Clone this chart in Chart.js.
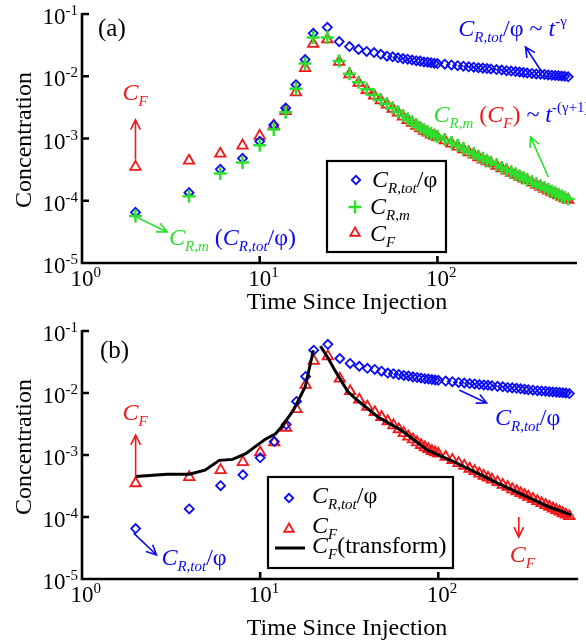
<!DOCTYPE html>
<html>
<head>
<meta charset="utf-8">
<script src="https://cdn.jsdelivr.net/npm/chart.js@4.4.1/dist/chart.umd.min.js"></script>
<style>
  html, body { margin: 0; padding: 0; background: #fff; }
  #wrap { position: relative; width: 586px; height: 643px; }
  canvas { position: absolute; left: 0; }
  #chartA { top: 0; }
  #chartB { top: 320px; }
</style>
</head>
<body>
<div id="wrap">
  <canvas id="chartA" width="586" height="320"></canvas>
  <canvas id="chartB" width="586" height="323"></canvas>
</div>
<script>
// time since injection (same sampling for all marker series)
const times = [2, 4, 6, 8, 10, 12, 14, 16, 18, 20,
  24, 28, 32, 36, 40, 44, 48, 52, 56, 60, 64, 68, 72, 76, 80, 84, 88, 92, 96, 100,
  110, 120, 130, 140, 150, 160, 170, 180, 190, 200, 215, 230, 245, 260, 275, 290,
  305, 320, 340, 360, 380, 400, 420, 440, 460, 480, 500, 520, 544];

// C_R,tot / phi  (blue diamonds)
const crTot = [6.5e-5, 1.35e-4, 3.2e-4, 4.8e-4, 9.0e-4, 1.65e-3, 3.1e-3, 7.3e-3, 1.85e-2, 4.9e-2,
  6.1e-2, 3.6e-2, 3.0e-2, 2.7e-2, 2.5e-2, 2.4e-2, 2.25e-2, 2.1e-2, 2.05e-2, 1.98e-2,
  1.92e-2, 1.88e-2, 1.82e-2, 1.78e-2, 1.75e-2, 1.7e-2, 1.68e-2, 1.65e-2, 1.62e-2, 1.6e-2,
  1.56e-2, 1.52e-2, 1.48e-2, 1.45e-2, 1.42e-2, 1.4e-2, 1.37e-2, 1.35e-2, 1.33e-2, 1.31e-2,
  1.28e-2, 1.26e-2, 1.23e-2, 1.21e-2, 1.19e-2, 1.17e-2, 1.15e-2, 1.13e-2, 1.11e-2, 1.09e-2,
  1.08e-2, 1.07e-2, 1.05e-2, 1.04e-2, 1.03e-2, 1.02e-2, 1.01e-2, 1.0e-2, 0.98e-2];

// C_R,m  (green plus)
const crM = [5.7e-5, 1.18e-4, 2.75e-4, 4.1e-4, 7.8e-4, 1.4e-3, 2.65e-3, 6.3e-3, 1.6e-2, 4.2e-2,
  4.2e-2, 1.75e-2, 1.1e-2, 8.0e-3, 6.2e-3, 5.0e-3, 4.2e-3, 3.6e-3, 3.1e-3, 2.7e-3,
  2.35e-3, 2.05e-3, 1.85e-3, 1.66e-3, 1.5e-3, 1.38e-3, 1.28e-3, 1.2e-3, 1.13e-3, 1.08e-3,
  9.6e-4, 8.6e-4, 7.7e-4, 6.9e-4, 6.2e-4, 5.7e-4, 5.2e-4, 4.8e-4, 4.45e-4, 4.15e-4,
  3.8e-4, 3.42e-4, 3.15e-4, 2.9e-4, 2.7e-4, 2.5e-4, 2.35e-4, 2.2e-4, 2.02e-4, 1.87e-4,
  1.73e-4, 1.62e-4, 1.51e-4, 1.42e-4, 1.34e-4, 1.26e-4, 1.19e-4, 1.13e-4, 1.07e-4];

// C_F  (red triangles)
const cF = [3.5e-4, 4.4e-4, 5.7e-4, 7.7e-4, 1.1e-3, 1.6e-3, 2.75e-3, 5.5e-3, 1.35e-2, 3.3e-2,
  3.9e-2, 1.7e-2, 1.07e-2, 7.8e-3, 6.0e-3, 4.9e-3, 4.1e-3, 3.5e-3, 3.0e-3, 2.6e-3,
  2.25e-3, 1.98e-3, 1.78e-3, 1.6e-3, 1.45e-3, 1.33e-3, 1.24e-3, 1.16e-3, 1.1e-3, 1.05e-3,
  9.3e-4, 8.3e-4, 7.4e-4, 6.7e-4, 6.0e-4, 5.5e-4, 5.0e-4, 4.6e-4, 4.3e-4, 4.0e-4,
  3.65e-4, 3.3e-4, 3.05e-4, 2.8e-4, 2.6e-4, 2.42e-4, 2.27e-4, 2.12e-4, 1.95e-4, 1.8e-4,
  1.67e-4, 1.56e-4, 1.46e-4, 1.37e-4, 1.29e-4, 1.22e-4, 1.15e-4, 1.09e-4, 1.03e-4];

// C_F (transform) black line, panel (b); null = break near the peak
const lineT = [2, 3, 4, 4.9, 5.9, 7, 8.3, 9.8, 10.7, 12.2, 13.2, 15.4, 17.9, 19.9, 20.8,
  21.8, 24, 26.2, 31.1, 35.4, 45.7, 62, 87, 120, 165, 230, 313, 420, 557];
const lineV = [4.5e-4, 4.9e-4, 4.9e-4, 5.7e-4, 8.2e-4, 8.5e-4, 1.05e-3, 1.5e-3, 1.8e-3, 2.2e-3, 2.86e-3, 5.3e-3, 1.26e-2, 4.9e-2, null,
  5.7e-2, 3.7e-2, 2.35e-2, 1.05e-2, 7.5e-3, 4.15e-3, 2.5e-3, 1.2e-3, 8.0e-4, 5.1e-4, 3.2e-4, 2.13e-4, 1.45e-4, 1.08e-4];

// axis ticks
const xTickVals = [1, 10, 100];
const xTickExp = ['0', '1', '2'];
const yTickVals = [1e-5, 1e-4, 1e-3, 1e-2, 1e-1];
const yTickExp = ['-5', '-4', '-3', '-2', '-1'];

const BLUE = '#0a0af5', RED = '#f01818', GREEN = '#2ee02e', BLACK = '#000';
const SERIF = '"Liberation Serif", "Times New Roman", serif';

function pts(xs, ys) { return xs.map((x, i) => ({ x: x, y: ys[i] })); }
function font(size, italic) { return (italic ? 'italic ' : '') + size + 'px ' + SERIF; }

// segs: [text, color, size, italic, dy]
function drawRich(ctx, x, y, segs, align) {
  let w = 0;
  segs.forEach(s => { ctx.font = font(s[2], s[3]); w += ctx.measureText(s[0]).width; });
  let cx = align === 'right' ? x - w : (align === 'center' ? x - w / 2 : x);
  ctx.textAlign = 'left';
  ctx.textBaseline = 'alphabetic';
  segs.forEach(s => {
    ctx.font = font(s[2], s[3]);
    ctx.fillStyle = s[1];
    ctx.fillText(s[0], cx, y + (s[4] || 0));
    cx += ctx.measureText(s[0]).width;
  });
}

function arrow(ctx, x1, y1, x2, y2, color) {
  const ang = Math.atan2(y2 - y1, x2 - x1), L = 11, sp = 0.45;
  ctx.save();
  ctx.strokeStyle = color;
  ctx.lineWidth = 1.6;
  ctx.beginPath();
  ctx.moveTo(x1, y1); ctx.lineTo(x2, y2);
  ctx.moveTo(x2 - L * Math.cos(ang - sp), y2 - L * Math.sin(ang - sp));
  ctx.lineTo(x2, y2);
  ctx.lineTo(x2 - L * Math.cos(ang + sp), y2 - L * Math.sin(ang + sp));
  ctx.stroke();
  ctx.restore();
}

function marker(ctx, style, r, color, lw, x, y) {
  ctx.save();
  ctx.strokeStyle = color;
  ctx.fillStyle = 'rgba(0,0,0,0)';
  ctx.lineWidth = lw;
  Chart.helpers.drawPoint(ctx, { pointStyle: style, radius: r, rotation: 0, borderWidth: lw }, x, y);
  ctx.restore();
}

const CF = c => [['C', c, 24, true], ['F', c, 15, true, 6]];
const CRm = c => [['C', c, 24, true], ['R,m', c, 15, true, 6]];
const CRtot = c => [['C', c, 24, true], ['R,tot', c, 15, true, 6], ['/φ', c, 24, false]];

// annotations anchored in data coordinates (time, concentration)
const annotA = {
  texts: [
    [1.23, 0.0444, [['(a)', BLACK, 25, false]]],
    [1.69, 4.16e-3, CF(RED)],
    [3.09, 1.95e-5, [...CRm(GREEN), [' (', BLUE, 24, false], ...CRtot(BLUE), [')', BLUE, 24, false]]],
    [131, 0.0444, [...CRtot(BLUE), [' ~ ', BLUE, 24, false], ['t', BLUE, 24, true], ['-γ', BLUE, 15, false, -10]]],
    [95, 1.84e-3, [...CRm(GREEN), [' (', RED, 24, false], ...CF(RED), [')', RED, 24, false],
      [' ~ ', BLUE, 24, false], ['t', BLUE, 24, true], ['-(γ+1)', BLUE, 15, false, -10]]]
  ],
  arrows: [
    [2, 4.6e-4, 2, 2.0e-3, RED],
    [2.02, 5.5e-5, 3.01, 3.15e-5, GREEN],
    [390, 1.13e-2, 313, 2.95e-2, BLUE],
    [421, 2.41e-4, 334, 1.06e-3, GREEN]
  ],
  legend: ctx => {
    ctx.save();
    ctx.fillStyle = '#fff'; ctx.fillRect(327, 161, 119, 91);
    ctx.strokeStyle = BLACK; ctx.lineWidth = 2.2; ctx.strokeRect(327, 161, 119, 91);
    ctx.restore();
    marker(ctx, 'rectRot', 4.2, BLUE, 1.8, 356, 180);
    marker(ctx, 'cross', 6.5, GREEN, 2.5, 355, 207);
    marker(ctx, 'triangle', 5.5, RED, 1.8, 355, 233);
    drawRich(ctx, 372, 187, CRtot(BLACK));
    drawRich(ctx, 370, 214, CRm(BLACK));
    drawRich(ctx, 370, 241, CF(BLACK));
  }
};

const annotB = {
  texts: [
    [1.26, 3.67e-2, [['(b)', BLACK, 25, false]]],
    [1.69, 3.67e-3, CF(RED)],
    [2.79, 1.68e-5, CRtot(BLUE)],
    [208, 3.05e-3, CRtot(BLUE)],
    [252, 1.88e-5, CF(RED)]
  ],
  arrows: [
    [2, 4.4e-4, 2, 2.1e-3, RED],
    [1.95, 5.5e-5, 2.62, 2.44e-5, BLUE],
    [131, 1.12e-2, 187, 6.9e-3, BLUE],
    [283, 1.0e-4, 283, 4.75e-5, RED]
  ],
  legend: ctx => {
    ctx.save();
    ctx.fillStyle = '#fff'; ctx.fillRect(268, 157, 185, 91);
    ctx.strokeStyle = BLACK; ctx.lineWidth = 2.2; ctx.strokeRect(268, 157, 185, 91);
    ctx.strokeStyle = BLACK; ctx.lineWidth = 3;
    ctx.beginPath(); ctx.moveTo(275, 228); ctx.lineTo(305, 228); ctx.stroke();
    ctx.restore();
    marker(ctx, 'rectRot', 4.2, BLUE, 1.8, 289, 178);
    marker(ctx, 'triangle', 5.5, RED, 1.8, 289, 209);
    drawRich(ctx, 312, 183, CRtot(BLACK));
    drawRich(ctx, 312, 213, CF(BLACK));
    drawRich(ctx, 312, 233, [...CF(BLACK), ['(transform)', BLACK, 24, false]]);
  }
};

function decor(spec, conf) {
  return {
    id: 'decor',
    beforeDatasetsDraw(chart) {
      const ctx = chart.ctx, a = chart.chartArea, xs = chart.scales.x, ys = chart.scales.y;
      ctx.save();
      ctx.strokeStyle = BLACK;
      ctx.lineWidth = 2.6;
      ctx.beginPath();
      ctx.moveTo(a.left, a.top - 1);
      ctx.lineTo(a.left, a.bottom);
      ctx.lineTo(a.right, a.bottom);
      yTickVals.forEach(v => {
        const py = ys.getPixelForValue(v);
        ctx.moveTo(a.left, py); ctx.lineTo(a.left + 7, py);
      });
      xTickVals.forEach(v => {
        const px = xs.getPixelForValue(v);
        ctx.moveTo(px, a.bottom); ctx.lineTo(px, a.bottom - 7);
      });
      ctx.stroke();

      yTickVals.forEach((v, i) => {
        const py = ys.getPixelForValue(v);
        drawRich(ctx, a.left - 4, py + 10, [['10', BLACK, 23, false], [yTickExp[i], BLACK, 15, false, -9]], 'right');
      });
      xTickVals.forEach((v, i) => {
        const px = xs.getPixelForValue(v);
        ctx.font = font(23, false);
        const w10 = ctx.measureText('10').width;
        drawRich(ctx, px - w10 / 2, a.bottom + 23, [['10', BLACK, 23, false], [xTickExp[i], BLACK, 15, false, -9]]);
      });

      ctx.fillStyle = BLACK;
      ctx.font = font(24, false);
      ctx.textAlign = 'center';
      ctx.textBaseline = 'alphabetic';
      ctx.fillText('Time Since Injection', 347, conf.xTitleY);
      ctx.save();
      ctx.translate(31, conf.yTitleY);
      ctx.rotate(-Math.PI / 2);
      ctx.fillText('Concentration', 0, 0);
      ctx.restore();
      ctx.restore();
    },
    afterDatasetsDraw(chart) {
      const ctx = chart.ctx, xs = chart.scales.x, ys = chart.scales.y;
      spec.arrows.forEach(r => arrow(ctx, xs.getPixelForValue(r[0]), ys.getPixelForValue(r[1]),
        xs.getPixelForValue(r[2]), ys.getPixelForValue(r[3]), r[4]));
      spec.texts.forEach(r => drawRich(ctx, xs.getPixelForValue(r[0]), ys.getPixelForValue(r[1]), r[2]));
      spec.legend(ctx);
    }
  };
}

function baseOptions(padding) {
  return {
    responsive: false,
    animation: false,
    devicePixelRatio: 1,
    events: [],
    layout: { padding: padding },
    plugins: { legend: { display: false }, tooltip: { enabled: false } },
    scales: {
      x: { type: 'logarithmic', min: 1, max: 610, display: false },
      y: { type: 'logarithmic', min: 1e-5, max: 1e-1, display: false }
    }
  };
}

function scatterSet(label, data, style, radius, color, width, order) {
  return {
    label: label, data: data, showLine: false, clip: false, order: order,
    pointStyle: style, pointRadius: radius, pointHoverRadius: radius,
    pointBorderColor: color, pointBackgroundColor: 'rgba(0,0,0,0)', pointBorderWidth: width,
    borderColor: color, backgroundColor: 'rgba(0,0,0,0)'
  };
}

new Chart(document.getElementById('chartA').getContext('2d'), {
  type: 'scatter',
  data: {
    datasets: [
      scatterSet('C_R,m', pts(times, crM), 'cross', 6.5, GREEN, 2.5, 0),
      scatterSet('C_R,tot/φ', pts(times, crTot), 'rectRot', 4.5, BLUE, 1.8, 1),
      scatterSet('C_F', pts(times, cF), 'triangle', 6, RED, 1.8, 2)
    ]
  },
  options: baseOptions({ left: 82, right: 4, top: 14, bottom: 57 }),
  plugins: [decor(annotA, { xTitleY: 309, yTitleY: 140 })]
});

new Chart(document.getElementById('chartB').getContext('2d'), {
  type: 'scatter',
  data: {
    datasets: [
      {
        label: 'C_F (transform)', data: pts(lineT, lineV), showLine: true, spanGaps: false,
        borderColor: BLACK, borderWidth: 3, pointRadius: 0, pointHoverRadius: 0,
        tension: 0, clip: false, order: 0
      },
      scatterSet('C_R,tot/φ', pts(times, crTot), 'rectRot', 4.5, BLUE, 1.8, 1),
      scatterSet('C_F', pts(times, cF), 'triangle', 6, RED, 1.8, 2)
    ]
  },
  options: baseOptions({ left: 82, right: 4, top: 11, bottom: 64 }),
  plugins: [decor(annotB, { xTitleY: 315, yTitleY: 127 })]
});
</script>
</body>
</html>
